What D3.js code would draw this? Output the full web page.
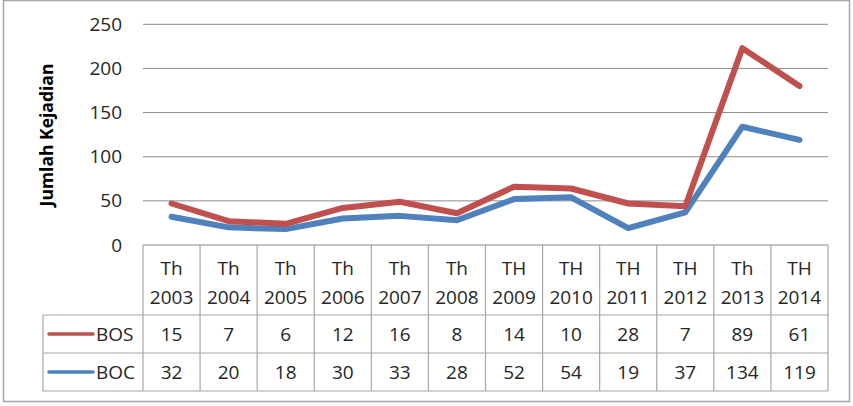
<!DOCTYPE html>
<html><head><meta charset="utf-8">
<script src="https://cdn.jsdelivr.net/npm/d3@7"></script>
<style>body{margin:0;background:#fff}svg{display:block}</style>
</head><body>
<svg id="c" width="853" height="406"></svg>
<script>
const catTop = ["Th","Th","Th","Th","Th","Th","TH","TH","TH","TH","Th","TH"];
const catYear = ["2003","2004","2005","2006","2007","2008","2009","2010","2011","2012","2013","2014"];
const seriesNames = ["BOS","BOC"];
const bos = [15,7,6,12,16,8,14,10,28,7,89,61];
const boc = [32,20,18,30,33,28,52,54,19,37,134,119];
const yTicks = [0,50,100,150,200,250];
const colors = {BOS:"#C0504D", BOC:"#4F81BD"};

const svg = d3.select("#c");
const font = "'Open Sans', 'Liberation Sans', sans-serif";
const L = 143, R = 828, T = 24.3, B = 245;
const rowH = [245, 315, 353, 391];

// frame
svg.append("rect").attr("x",3.5).attr("y",0.5).attr("width",846).attr("height",401)
  .attr("fill","#fff").attr("stroke","#a6a6a6").attr("stroke-width",1.5);

const x = d3.scaleBand().domain(catYear).range([L,R]);
const y = d3.scaleLinear().domain([0,250]).range([B,T]);

// gridlines
svg.append("g").selectAll("line").data(yTicks.filter(d=>d>0)).join("line")
  .attr("x1",L).attr("x2",R).attr("y1",d=>y(d)).attr("y2",d=>y(d))
  .attr("stroke","#8c8c8c").attr("stroke-width",1);

// y axis labels
const yAxis = d3.axisLeft(y).tickValues(yTicks).tickSize(0).tickPadding(21);
const gy = svg.append("g").attr("transform",`translate(${L},0)`).call(yAxis);
gy.select(".domain").remove();
gy.selectAll("text").attr("font-family",font).attr("font-size",19).attr("fill","#262626");

// y title
svg.append("text").attr("transform","translate(52.5,135) rotate(-90)")
  .attr("text-anchor","middle").attr("font-family",font).attr("font-weight","bold")
  .attr("font-size",17.5).attr("fill","#000").text("Jumlah Kejadian");

// table lines
const tg = svg.append("g").attr("stroke","#a6a6a6").attr("stroke-width",1.2).attr("fill","none");
tg.append("line").attr("x1",L).attr("x2",R).attr("y1",B).attr("y2",B).attr("stroke","#8c8c8c");
tg.append("line").attr("x1",43).attr("x2",R).attr("y1",rowH[1]).attr("y2",rowH[1]);
tg.append("line").attr("x1",43).attr("x2",R).attr("y1",rowH[2]).attr("y2",rowH[2]);
tg.append("line").attr("x1",43).attr("x2",R).attr("y1",rowH[3]).attr("y2",rowH[3]);
const vx = catYear.map(c=>x(c)).concat([R]);
tg.selectAll("line.v").data(vx).join("line").attr("class","v")
  .attr("x1",d=>d).attr("x2",d=>d).attr("y1",B).attr("y2",rowH[3]);
tg.append("line").attr("x1",43).attr("x2",43).attr("y1",rowH[1]).attr("y2",rowH[3]);

// header text
const hdr = svg.append("g").attr("font-family",font).attr("font-size",19).attr("fill","#262626").attr("text-anchor","middle");
hdr.selectAll("text.t").data(catTop).join("text").attr("class","t")
  .attr("x",(d,i)=>x(catYear[i])+x.bandwidth()/2).attr("y",275).text(d=>d);
hdr.selectAll("text.y").data(catYear).join("text").attr("class","y")
  .attr("x",d=>x(d)+x.bandwidth()/2).attr("y",304).text(d=>d);

// values
const rows = [{name:"BOS",vals:bos,ty:341},{name:"BOC",vals:boc,ty:379}];
rows.forEach(r=>{
  const g = svg.append("g").attr("font-family",font).attr("font-size",19).attr("fill","#262626").attr("text-anchor","middle");
  g.selectAll("text").data(r.vals).join("text")
    .attr("x",(d,i)=>x(catYear[i])+x.bandwidth()/2).attr("y",r.ty).text(d=>d);
  const ly = r.ty-7;
  svg.append("line").attr("x1",49).attr("x2",93).attr("y1",ly).attr("y2",ly)
    .attr("stroke",colors[r.name]).attr("stroke-width",3.5).attr("stroke-linecap","round");
  svg.append("text").attr("x",96).attr("y",r.ty).attr("font-family",font).attr("font-size",19)
    .attr("fill","#262626").text(r.name);
});

// stacked lines
const stackedBos = bos.map((v,i)=>v+boc[i]);
const line = d3.line().x((d,i)=>x(catYear[i])+x.bandwidth()/2).y(d=>y(d));
svg.append("path").datum(boc).attr("d",line).attr("fill","none")
  .attr("stroke",colors.BOC).attr("stroke-width",6).attr("stroke-linejoin","round").attr("stroke-linecap","round");
svg.append("path").datum(stackedBos).attr("d",line).attr("fill","none")
  .attr("stroke",colors.BOS).attr("stroke-width",6).attr("stroke-linejoin","round").attr("stroke-linecap","round");
</script>
</body></html>
